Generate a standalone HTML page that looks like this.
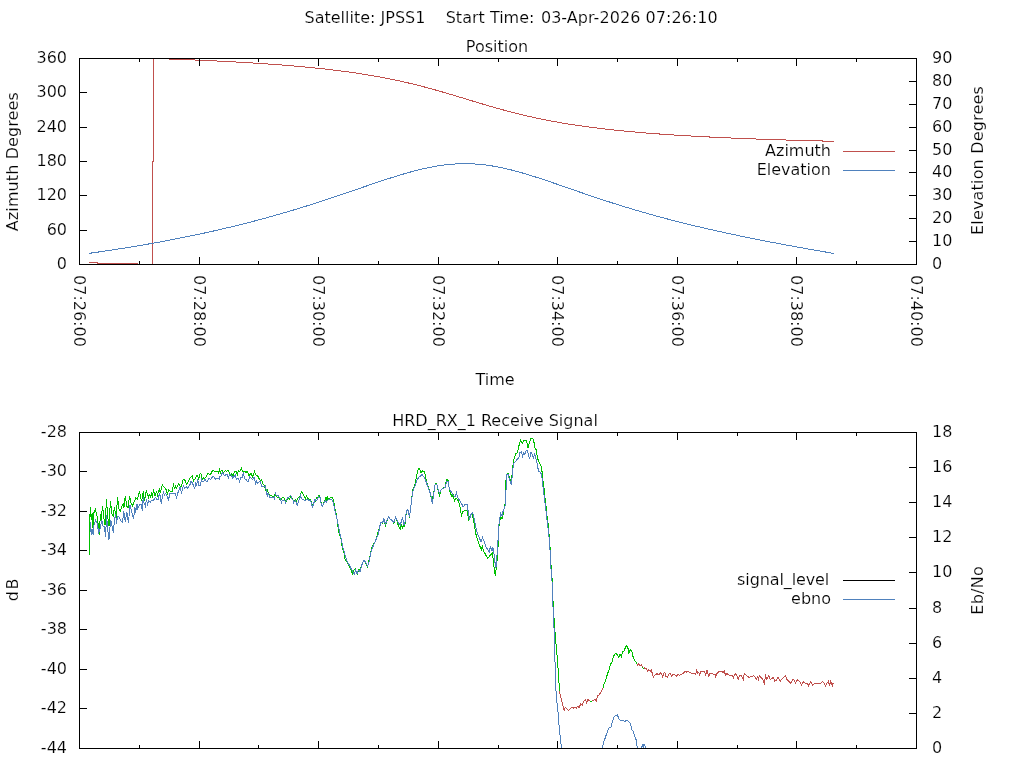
<!DOCTYPE html>
<html lang="en"><head><meta charset="utf-8"><title>Satellite: JPSS1</title>
<style>html,body{margin:0;padding:0;background:#fff;overflow:hidden}svg{display:block}text{font-family:"DejaVu Sans","Liberation Sans",sans-serif;font-size:16px;fill:#000;stroke:#fff;stroke-width:.18px}</style></head>
<body>
<svg width="1024" height="768" viewBox="0 0 1024 768">
<rect width="1024" height="768" fill="#fff"/>
<text x="304.5" y="23" xml:space="preserve" style="white-space:pre">Satellite: JPSS1    Start Time:</text>
<text x="717.7" y="23" text-anchor="end" textLength="176.8" lengthAdjust="spacing">03-Apr-2026 07:26:10</text>
<text x="497" y="52" text-anchor="middle">Position</text>
<polyline points="89,262.5 97,262.5 97,263.5 137,263.5 137,264.5 152.5,264.5 152.5,161 153.5,161 153.5,58.5" fill="none" stroke="#c0504d" stroke-width="1" shape-rendering="crispEdges" />
<polyline points="153.5,58.45 154.5,58.49 155.5,58.52 156.5,58.55 157.5,58.59 158.5,58.62 159.5,58.66 160.5,58.69 161.5,58.73 162.5,58.76 163.5,58.8 164.5,58.83 165.5,58.87 166.5,58.9 167.5,58.94 168.5,58.97 169.5,59.01 170.5,59.05 171.5,59.08 172.5,59.12 173.5,59.16 174.5,59.19 175.5,59.23 176.5,59.27 177.5,59.31 178.5,59.35 179.5,59.38 180.5,59.42 181.5,59.46 182.5,59.5 183.5,59.54 184.5,59.58 185.5,59.62 186.5,59.66 187.5,59.7 188.5,59.74 189.5,59.78 190.5,59.82 191.5,59.86 192.5,59.9 193.5,59.95 194.5,59.99 195.5,60.03 196.5,60.07 197.5,60.12 198.5,60.16 199.5,60.2 200.5,60.25 201.5,60.29 202.5,60.33 203.5,60.38 204.5,60.42 205.5,60.47 206.5,60.51 207.5,60.56 208.5,60.6 209.5,60.65 210.5,60.7 211.5,60.74 212.5,60.79 213.5,60.84 214.5,60.89 215.5,60.93 216.5,60.98 217.5,61.03 218.5,61.08 219.5,61.13 220.5,61.18 221.5,61.23 222.5,61.28 223.5,61.33 224.5,61.38 225.5,61.43 226.5,61.48 227.5,61.54 228.5,61.59 229.5,61.64 230.5,61.69 231.5,61.75 232.5,61.8 233.5,61.85 234.5,61.91 235.5,61.96 236.5,62.02 237.5,62.08 238.5,62.13 239.5,62.19 240.5,62.24 241.5,62.3 242.5,62.36 243.5,62.42 244.5,62.48 245.5,62.54 246.5,62.59 247.5,62.65 248.5,62.71 249.5,62.78 250.5,62.84 251.5,62.9 252.5,62.96 253.5,63.02 254.5,63.09 255.5,63.15 256.5,63.21 257.5,63.28 258.5,63.34 259.5,63.41 260.5,63.47 261.5,63.54 262.5,63.61 263.5,63.67 264.5,63.74 265.5,63.81 266.5,63.88 267.5,63.95 268.5,64.02 269.5,64.09 270.5,64.16 271.5,64.23 272.5,64.3 273.5,64.37 274.5,64.45 275.5,64.52 276.5,64.6 277.5,64.67 278.5,64.75 279.5,64.82 280.5,64.9 281.5,64.98 282.5,65.05 283.5,65.13 284.5,65.21 285.5,65.29 286.5,65.37 287.5,65.45 288.5,65.54 289.5,65.62 290.5,65.7 291.5,65.79 292.5,65.87 293.5,65.95 294.5,66.04 295.5,66.13 296.5,66.21 297.5,66.3 298.5,66.39 299.5,66.48 300.5,66.57 301.5,66.66 302.5,66.75 303.5,66.85 304.5,66.94 305.5,67.03 306.5,67.13 307.5,67.23 308.5,67.32 309.5,67.42 310.5,67.52 311.5,67.62 312.5,67.72 313.5,67.82 314.5,67.92 315.5,68.02 316.5,68.13 317.5,68.23 318.5,68.34 319.5,68.44 320.5,68.55 321.5,68.66 322.5,68.77 323.5,68.88 324.5,68.99 325.5,69.1 326.5,69.21 327.5,69.33 328.5,69.44 329.5,69.56 330.5,69.67 331.5,69.79 332.5,69.91 333.5,70.03 334.5,70.15 335.5,70.28 336.5,70.4 337.5,70.52 338.5,70.65 339.5,70.78 340.5,70.91 341.5,71.03 342.5,71.17 343.5,71.3 344.5,71.43 345.5,71.56 346.5,71.7 347.5,71.84 348.5,71.97 349.5,72.11 350.5,72.25 351.5,72.4 352.5,72.54 353.5,72.68 354.5,72.83 355.5,72.98 356.5,73.12 357.5,73.27 358.5,73.42 359.5,73.58 360.5,73.73 361.5,73.89 362.5,74.04 363.5,74.2 364.5,74.36 365.5,74.52 366.5,74.69 367.5,74.85 368.5,75.02 369.5,75.18 370.5,75.35 371.5,75.52 372.5,75.69 373.5,75.87 374.5,76.04 375.5,76.22 376.5,76.4 377.5,76.58 378.5,76.76 379.5,76.94 380.5,77.13 381.5,77.31 382.5,77.5 383.5,77.69 384.5,77.88 385.5,78.08 386.5,78.27 387.5,78.47 388.5,78.67 389.5,78.87 390.5,79.07 391.5,79.27 392.5,79.48 393.5,79.69 394.5,79.89 395.5,80.11 396.5,80.32 397.5,80.53 398.5,80.75 399.5,80.97 400.5,81.19 401.5,81.41 402.5,81.63 403.5,81.86 404.5,82.09 405.5,82.31 406.5,82.55 407.5,82.78 408.5,83.01 409.5,83.25 410.5,83.49 411.5,83.73 412.5,83.97 413.5,84.21 414.5,84.46 415.5,84.7 416.5,84.95 417.5,85.2 418.5,85.46 419.5,85.71 420.5,85.97 421.5,86.22 422.5,86.48 423.5,86.74 424.5,87.01 425.5,87.27 426.5,87.54 427.5,87.81 428.5,88.07 429.5,88.35 430.5,88.62 431.5,88.89 432.5,89.17 433.5,89.44 434.5,89.72 435.5,90 436.5,90.28 437.5,90.56 438.5,90.85 439.5,91.13 440.5,91.42 441.5,91.71 442.5,92 443.5,92.29 444.5,92.58 445.5,92.87 446.5,93.16 447.5,93.45 448.5,93.75 449.5,94.05 450.5,94.34 451.5,94.64 452.5,94.94 453.5,95.24 454.5,95.54 455.5,95.84 456.5,96.14 457.5,96.44 458.5,96.74 459.5,97.04 460.5,97.35 461.5,97.65 462.5,97.95 463.5,98.25 464.5,98.56 465.5,98.86 466.5,99.17 467.5,99.47 468.5,99.77 469.5,100.08 470.5,100.38 471.5,100.68 472.5,100.99 473.5,101.29 474.5,101.59 475.5,101.89 476.5,102.2 477.5,102.5 478.5,102.8 479.5,103.1 480.5,103.4 481.5,103.7 482.5,103.99 483.5,104.29 484.5,104.59 485.5,104.88 486.5,105.18 487.5,105.47 488.5,105.76 489.5,106.05 490.5,106.34 491.5,106.63 492.5,106.92 493.5,107.21 494.5,107.49 495.5,107.78 496.5,108.06 497.5,108.34 498.5,108.62 499.5,108.9 500.5,109.18 501.5,109.46 502.5,109.73 503.5,110 504.5,110.27 505.5,110.54 506.5,110.81 507.5,111.08 508.5,111.34 509.5,111.61 510.5,111.87 511.5,112.13 512.5,112.39 513.5,112.65 514.5,112.9 515.5,113.15 516.5,113.4 517.5,113.65 518.5,113.9 519.5,114.15 520.5,114.39 521.5,114.64 522.5,114.88 523.5,115.12 524.5,115.35 525.5,115.59 526.5,115.82 527.5,116.05 528.5,116.28 529.5,116.51 530.5,116.74 531.5,116.96 532.5,117.18 533.5,117.41 534.5,117.62 535.5,117.84 536.5,118.06 537.5,118.27 538.5,118.48 539.5,118.69 540.5,118.9 541.5,119.11 542.5,119.31 543.5,119.51 544.5,119.71 545.5,119.91 546.5,120.11 547.5,120.31 548.5,120.5 549.5,120.69 550.5,120.88 551.5,121.07 552.5,121.26 553.5,121.44 554.5,121.63 555.5,121.81 556.5,121.99 557.5,122.17 558.5,122.35 559.5,122.52 560.5,122.7 561.5,122.87 562.5,123.04 563.5,123.21 564.5,123.38 565.5,123.54 566.5,123.71 567.5,123.87 568.5,124.03 569.5,124.19 570.5,124.35 571.5,124.51 572.5,124.66 573.5,124.82 574.5,124.97 575.5,125.12 576.5,125.27 577.5,125.42 578.5,125.57 579.5,125.72 580.5,125.86 581.5,126 582.5,126.15 583.5,126.29 584.5,126.43 585.5,126.56 586.5,126.7 587.5,126.84 588.5,126.97 589.5,127.1 590.5,127.23 591.5,127.37 592.5,127.49 593.5,127.62 594.5,127.75 595.5,127.88 596.5,128 597.5,128.12 598.5,128.25 599.5,128.37 600.5,128.49 601.5,128.61 602.5,128.73 603.5,128.84 604.5,128.96 605.5,129.07 606.5,129.19 607.5,129.3 608.5,129.41 609.5,129.52 610.5,129.63 611.5,129.74 612.5,129.85 613.5,129.96 614.5,130.06 615.5,130.17 616.5,130.27 617.5,130.38 618.5,130.48 619.5,130.58 620.5,130.68 621.5,130.78 622.5,130.88 623.5,130.98 624.5,131.08 625.5,131.17 626.5,131.27 627.5,131.36 628.5,131.46 629.5,131.55 630.5,131.64 631.5,131.73 632.5,131.82 633.5,131.91 634.5,132 635.5,132.09 636.5,132.18 637.5,132.27 638.5,132.35 639.5,132.44 640.5,132.52 641.5,132.61 642.5,132.69 643.5,132.77 644.5,132.85 645.5,132.94 646.5,133.02 647.5,133.1 648.5,133.18 649.5,133.25 650.5,133.33 651.5,133.41 652.5,133.49 653.5,133.56 654.5,133.64 655.5,133.71 656.5,133.79 657.5,133.86 658.5,133.93 659.5,134.01 660.5,134.08 661.5,134.15 662.5,134.22 663.5,134.29 664.5,134.36 665.5,134.43 666.5,134.5 667.5,134.57 668.5,134.64 669.5,134.7 670.5,134.77 671.5,134.84 672.5,134.9 673.5,134.97 674.5,135.03 675.5,135.09 676.5,135.16 677.5,135.22 678.5,135.28 679.5,135.35 680.5,135.41 681.5,135.47 682.5,135.53 683.5,135.59 684.5,135.65 685.5,135.71 686.5,135.77 687.5,135.83 688.5,135.89 689.5,135.94 690.5,136 691.5,136.06 692.5,136.11 693.5,136.17 694.5,136.23 695.5,136.28 696.5,136.34 697.5,136.39 698.5,136.44 699.5,136.5 700.5,136.55 701.5,136.6 702.5,136.66 703.5,136.71 704.5,136.76 705.5,136.81 706.5,136.86 707.5,136.91 708.5,136.96 709.5,137.01 710.5,137.06 711.5,137.11 712.5,137.16 713.5,137.21 714.5,137.26 715.5,137.31 716.5,137.35 717.5,137.4 718.5,137.45 719.5,137.49 720.5,137.54 721.5,137.59 722.5,137.63 723.5,137.68 724.5,137.72 725.5,137.77 726.5,137.81 727.5,137.86 728.5,137.9 729.5,137.94 730.5,137.99 731.5,138.03 732.5,138.07 733.5,138.11 734.5,138.16 735.5,138.2 736.5,138.24 737.5,138.28 738.5,138.32 739.5,138.36 740.5,138.4 741.5,138.44 742.5,138.48 743.5,138.52 744.5,138.56 745.5,138.6 746.5,138.64 747.5,138.68 748.5,138.72 749.5,138.76 750.5,138.8 751.5,138.83 752.5,138.87 753.5,138.91 754.5,138.95 755.5,138.98 756.5,139.02 757.5,139.06 758.5,139.09 759.5,139.13 760.5,139.16 761.5,139.2 762.5,139.23 763.5,139.27 764.5,139.3 765.5,139.34 766.5,139.37 767.5,139.41 768.5,139.44 769.5,139.47 770.5,139.51 771.5,139.54 772.5,139.58 773.5,139.61 774.5,139.64 775.5,139.67 776.5,139.71 777.5,139.74 778.5,139.77 779.5,139.8 780.5,139.83 781.5,139.87 782.5,139.9 783.5,139.93 784.5,139.96 785.5,139.99 786.5,140.02 787.5,140.05 788.5,140.08 789.5,140.11 790.5,140.14 791.5,140.17 792.5,140.2 793.5,140.23 794.5,140.26 795.5,140.29 796.5,140.32 797.5,140.34 798.5,140.37 799.5,140.4 800.5,140.43 801.5,140.46 802.5,140.49 803.5,140.51 804.5,140.54 805.5,140.57 806.5,140.6 807.5,140.62 808.5,140.65 809.5,140.68 810.5,140.7 811.5,140.73 812.5,140.76 813.5,140.78 814.5,140.81 815.5,140.83 816.5,140.86 817.5,140.89 818.5,140.91 819.5,140.94 820.5,140.96 821.5,140.99 822.5,141.01 823.5,141.04 824.5,141.06 825.5,141.09 826.5,141.11 827.5,141.13 828.5,141.16 829.5,141.18 830.5,141.21 831.5,141.23 832.5,141.25 833.5,141.28 834.2,141.29" fill="none" stroke="#c0504d" stroke-width="1" shape-rendering="crispEdges" />
<polyline points="89,253.36 90,253.22 91,253.08 92,252.94 93,252.8 94,252.66 95,252.51 96,252.37 97,252.23 98,252.08 99,251.94 100,251.79 101,251.65 102,251.5 103,251.35 104,251.2 105,251.06 106,250.91 107,250.76 108,250.61 109,250.46 110,250.31 111,250.15 112,250 113,249.85 114,249.69 115,249.54 116,249.39 117,249.23 118,249.07 119,248.92 120,248.76 121,248.6 122,248.44 123,248.28 124,248.12 125,247.96 126,247.8 127,247.64 128,247.48 129,247.31 130,247.15 131,246.99 132,246.82 133,246.66 134,246.49 135,246.32 136,246.15 137,245.99 138,245.82 139,245.65 140,245.48 141,245.31 142,245.14 143,244.96 144,244.79 145,244.62 146,244.44 147,244.27 148,244.09 149,243.92 150,243.74 151,243.56 152,243.38 153,243.2 154,243.02 155,242.84 156,242.66 157,242.48 158,242.3 159,242.12 160,241.93 161,241.75 162,241.56 163,241.38 164,241.19 165,241 166,240.81 167,240.62 168,240.43 169,240.24 170,240.05 171,239.86 172,239.67 173,239.48 174,239.28 175,239.09 176,238.89 177,238.7 178,238.5 179,238.3 180,238.1 181,237.9 182,237.7 183,237.5 184,237.3 185,237.1 186,236.9 187,236.69 188,236.49 189,236.28 190,236.08 191,235.87 192,235.66 193,235.45 194,235.24 195,235.03 196,234.82 197,234.61 198,234.4 199,234.18 200,233.97 201,233.76 202,233.54 203,233.32 204,233.11 205,232.89 206,232.67 207,232.45 208,232.23 209,232.01 210,231.78 211,231.56 212,231.34 213,231.11 214,230.89 215,230.66 216,230.43 217,230.2 218,229.97 219,229.74 220,229.51 221,229.28 222,229.05 223,228.81 224,228.58 225,228.34 226,228.11 227,227.87 228,227.63 229,227.39 230,227.15 231,226.91 232,226.67 233,226.43 234,226.19 235,225.94 236,225.7 237,225.45 238,225.2 239,224.96 240,224.71 241,224.46 242,224.21 243,223.95 244,223.7 245,223.45 246,223.19 247,222.94 248,222.68 249,222.43 250,222.17 251,221.91 252,221.65 253,221.39 254,221.12 255,220.86 256,220.6 257,220.33 258,220.07 259,219.8 260,219.53 261,219.26 262,218.99 263,218.72 264,218.45 265,218.18 266,217.91 267,217.63 268,217.35 269,217.08 270,216.8 271,216.52 272,216.24 273,215.96 274,215.68 275,215.4 276,215.12 277,214.83 278,214.55 279,214.26 280,213.97 281,213.68 282,213.39 283,213.1 284,212.81 285,212.52 286,212.23 287,211.93 288,211.64 289,211.34 290,211.05 291,210.75 292,210.45 293,210.15 294,209.85 295,209.55 296,209.24 297,208.94 298,208.63 299,208.33 300,208.02 301,207.71 302,207.41 303,207.1 304,206.79 305,206.47 306,206.16 307,205.85 308,205.54 309,205.22 310,204.9 311,204.59 312,204.27 313,203.95 314,203.63 315,203.31 316,202.99 317,202.67 318,202.35 319,202.02 320,201.7 321,201.37 322,201.05 323,200.72 324,200.39 325,200.07 326,199.74 327,199.41 328,199.08 329,198.75 330,198.41 331,198.08 332,197.75 333,197.41 334,197.08 335,196.74 336,196.41 337,196.07 338,195.74 339,195.4 340,195.06 341,194.72 342,194.38 343,194.04 344,193.71 345,193.37 346,193.02 347,192.68 348,192.34 349,192 350,191.66 351,191.32 352,190.97 353,190.63 354,190.29 355,189.95 356,189.6 357,189.26 358,188.92 359,188.58 360,188.23 361,187.89 362,187.55 363,187.2 364,186.86 365,186.52 366,186.18 367,185.83 368,185.49 369,185.15 370,184.81 371,184.47 372,184.13 373,183.79 374,183.45 375,183.11 376,182.78 377,182.44 378,182.1 379,181.77 380,181.44 381,181.1 382,180.77 383,180.44 384,180.11 385,179.78 386,179.45 387,179.13 388,178.8 389,178.48 390,178.16 391,177.84 392,177.52 393,177.2 394,176.89 395,176.57 396,176.26 397,175.95 398,175.64 399,175.34 400,175.03 401,174.73 402,174.44 403,174.14 404,173.85 405,173.55 406,173.27 407,172.98 408,172.7 409,172.42 410,172.14 411,171.86 412,171.59 413,171.33 414,171.06 415,170.8 416,170.54 417,170.29 418,170.04 419,169.79 420,169.55 421,169.31 422,169.07 423,168.84 424,168.61 425,168.39 426,168.17 427,167.95 428,167.74 429,167.54 430,167.34 431,167.14 432,166.95 433,166.76 434,166.58 435,166.4 436,166.23 437,166.06 438,165.9 439,165.74 440,165.59 441,165.45 442,165.31 443,165.17 444,165.04 445,164.92 446,164.8 447,164.69 448,164.58 449,164.48 450,164.38 451,164.29 452,164.21 453,164.13 454,164.06 455,164 456,163.94 457,163.89 458,163.84 459,163.8 460,163.76 461,163.74 462,163.71 463,163.7 464,163.69 465,163.69 466,163.69 467,163.7 468,163.72 469,163.74 470,163.77 471,163.8 472,163.84 473,163.89 474,163.94 475,164 476,164.07 477,164.14 478,164.22 479,164.3 480,164.39 481,164.49 482,164.59 483,164.7 484,164.81 485,164.93 486,165.06 487,165.19 488,165.33 489,165.47 490,165.62 491,165.77 492,165.93 493,166.09 494,166.26 495,166.44 496,166.62 497,166.8 498,166.99 499,167.19 500,167.39 501,167.6 502,167.8 503,168.02 504,168.24 505,168.46 506,168.69 507,168.92 508,169.16 509,169.4 510,169.64 511,169.89 512,170.14 513,170.4 514,170.66 515,170.92 516,171.19 517,171.46 518,171.73 519,172.01 520,172.29 521,172.58 522,172.86 523,173.15 524,173.44 525,173.74 526,174.04 527,174.34 528,174.64 529,174.95 530,175.25 531,175.56 532,175.88 533,176.19 534,176.51 535,176.83 536,177.15 537,177.47 538,177.79 539,178.12 540,178.44 541,178.77 542,179.1 543,179.44 544,179.77 545,180.1 546,180.44 547,180.77 548,181.11 549,181.45 550,181.79 551,182.13 552,182.47 553,182.81 554,183.16 555,183.5 556,183.84 557,184.19 558,184.53 559,184.88 560,185.22 561,185.57 562,185.92 563,186.26 564,186.61 565,186.96 566,187.3 567,187.65 568,188 569,188.34 570,188.69 571,189.04 572,189.39 573,189.73 574,190.08 575,190.43 576,190.77 577,191.12 578,191.46 579,191.81 580,192.15 581,192.5 582,192.84 583,193.18 584,193.52 585,193.87 586,194.21 587,194.55 588,194.89 589,195.23 590,195.57 591,195.91 592,196.24 593,196.58 594,196.92 595,197.25 596,197.59 597,197.92 598,198.25 599,198.59 600,198.92 601,199.25 602,199.58 603,199.91 604,200.24 605,200.56 606,200.89 607,201.21 608,201.54 609,201.86 610,202.18 611,202.51 612,202.83 613,203.15 614,203.46 615,203.78 616,204.1 617,204.41 618,204.73 619,205.04 620,205.36 621,205.67 622,205.98 623,206.29 624,206.6 625,206.9 626,207.21 627,207.52 628,207.82 629,208.12 630,208.43 631,208.73 632,209.03 633,209.33 634,209.62 635,209.92 636,210.22 637,210.51 638,210.81 639,211.1 640,211.39 641,211.68 642,211.97 643,212.26 644,212.55 645,212.83 646,213.12 647,213.41 648,213.69 649,213.97 650,214.25 651,214.53 652,214.81 653,215.09 654,215.37 655,215.65 656,215.92 657,216.2 658,216.47 659,216.74 660,217.01 661,217.28 662,217.55 663,217.82 664,218.09 665,218.35 666,218.62 667,218.88 668,219.15 669,219.41 670,219.67 671,219.93 672,220.19 673,220.45 674,220.71 675,220.97 676,221.22 677,221.48 678,221.73 679,221.99 680,222.24 681,222.49 682,222.74 683,222.99 684,223.24 685,223.49 686,223.74 687,223.98 688,224.23 689,224.47 690,224.72 691,224.96 692,225.2 693,225.44 694,225.68 695,225.92 696,226.16 697,226.4 698,226.64 699,226.87 700,227.11 701,227.34 702,227.58 703,227.81 704,228.04 705,228.27 706,228.5 707,228.74 708,228.96 709,229.19 710,229.42 711,229.65 712,229.87 713,230.1 714,230.33 715,230.55 716,230.77 717,231 718,231.22 719,231.44 720,231.66 721,231.88 722,232.1 723,232.32 724,232.54 725,232.75 726,232.97 727,233.19 728,233.4 729,233.62 730,233.83 731,234.05 732,234.26 733,234.47 734,234.68 735,234.89 736,235.1 737,235.31 738,235.52 739,235.73 740,235.94 741,236.15 742,236.35 743,236.56 744,236.77 745,236.97 746,237.18 747,237.38 748,237.58 749,237.79 750,237.99 751,238.19 752,238.39 753,238.59 754,238.79 755,238.99 756,239.19 757,239.39 758,239.59 759,239.79 760,239.99 761,240.18 762,240.38 763,240.57 764,240.77 765,240.96 766,241.16 767,241.35 768,241.55 769,241.74 770,241.93 771,242.12 772,242.32 773,242.51 774,242.7 775,242.89 776,243.08 777,243.27 778,243.46 779,243.65 780,243.83 781,244.02 782,244.21 783,244.4 784,244.58 785,244.77 786,244.95 787,245.14 788,245.32 789,245.51 790,245.69 791,245.88 792,246.06 793,246.24 794,246.43 795,246.61 796,246.79 797,246.97 798,247.15 799,247.34 800,247.52 801,247.7 802,247.88 803,248.06 804,248.24 805,248.41 806,248.59 807,248.77 808,248.95 809,249.13 810,249.3 811,249.48 812,249.66 813,249.83 814,250.01 815,250.19 816,250.36 817,250.54 818,250.71 819,250.89 820,251.06 821,251.24 822,251.41 823,251.58 824,251.76 825,251.93 826,252.1 827,252.27 828,252.45 829,252.62 830,252.79 831,252.96 832,253.13 833,253.3 834.2,253.51" fill="none" stroke="#4f81bd" stroke-width="1" shape-rendering="crispEdges" />
<path d="M79.5 265V257M79.5 58V66M139.5 265V261M139.5 58V62M199.5 265V257M199.5 58V66M258.5 265V261M258.5 58V62M318.5 265V257M318.5 58V66M378.5 265V261M378.5 58V62M438.5 265V257M438.5 58V66M498.5 265V261M498.5 58V62M557.5 265V257M557.5 58V66M617.5 265V261M617.5 58V62M677.5 265V257M677.5 58V66M737.5 265V261M737.5 58V62M796.5 265V257M796.5 58V66M856.5 265V261M856.5 58V62M916.5 265V257M916.5 58V66M79 264.5H87M79 230.5H87M79 195.5H87M79 161.5H87M79 127.5H87M79 92.5H87M79 58.5H87M917 264.5H909M917 241.5H909M917 218.5H909M917 195.5H909M917 172.5H909M917 150.5H909M917 127.5H909M917 104.5H909M917 81.5H909M917 58.5H909" stroke="#000" stroke-width="1" fill="none" shape-rendering="crispEdges"/>
<rect x="79.5" y="58.5" width="837" height="206" fill="none" stroke="#000" stroke-width="1" shape-rendering="crispEdges"/>
<text x="67" y="269" text-anchor="end">0</text>
<text x="67" y="235" text-anchor="end">60</text>
<text x="67" y="200" text-anchor="end">120</text>
<text x="67" y="166" text-anchor="end">180</text>
<text x="67" y="132" text-anchor="end">240</text>
<text x="67" y="97" text-anchor="end">300</text>
<text x="67" y="63" text-anchor="end">360</text>
<text x="932" y="269">0</text>
<text x="932" y="246">10</text>
<text x="932" y="223">20</text>
<text x="932" y="200">30</text>
<text x="932" y="177">40</text>
<text x="932" y="155">50</text>
<text x="932" y="132">60</text>
<text x="932" y="109">70</text>
<text x="932" y="86">80</text>
<text x="932" y="63">90</text>
<text transform="translate(74 275) rotate(90)">07:26:00</text>
<text transform="translate(194 275) rotate(90)">07:28:00</text>
<text transform="translate(313 275) rotate(90)">07:30:00</text>
<text transform="translate(433 275) rotate(90)">07:32:00</text>
<text transform="translate(552 275) rotate(90)">07:34:00</text>
<text transform="translate(672 275) rotate(90)">07:36:00</text>
<text transform="translate(791 275) rotate(90)">07:38:00</text>
<text transform="translate(911 275) rotate(90)">07:40:00</text>
<text transform="translate(17.5 231.2) rotate(-90)" textLength="139" lengthAdjust="spacing">Azimuth Degrees</text>
<text transform="translate(983 235) rotate(-90)" textLength="148.85" lengthAdjust="spacing">Elevation Degrees</text>
<text x="495" y="385" text-anchor="middle">Time</text>
<text x="831" y="156" text-anchor="end">Azimuth</text>
<text x="831" y="175" text-anchor="end">Elevation</text>
<path d="M843 151.5H895" stroke="#c0504d" shape-rendering="crispEdges"/>
<path d="M843 170.5H895" stroke="#4f81bd" shape-rendering="crispEdges"/>
<text x="495" y="426" text-anchor="middle">HRD_RX_1 Receive Signal</text>
<clipPath id="cb"><rect x="79" y="432" width="838" height="317"/></clipPath>
<g clip-path="url(#cb)">
<polyline points="559.5,690.62 560.38,696.25 561.62,700 562.88,705.62 564.12,710.62 565.38,707.5 567,708.75 568.75,710.62 570,708.75 571.62,707.25 573.25,708.12 574.75,707.5 576.25,708.12 577.88,706.25 579.12,707.5 580.75,703.75 582.25,705 584.12,700.62 585.38,699.38 586.62,702.5 587.88,699.38 589.5,701" fill="none" stroke="#c0504d" stroke-width="1" shape-rendering="crispEdges" />
<polyline points="592.25,701.25 592.88,700.62 594.75,699.38 596.62,701.25 597.25,696.25 599.12,695 601,691.88 602.88,688.12 603,687.75" fill="none" stroke="#c0504d" stroke-width="1" shape-rendering="crispEdges" />
<polyline points="637.25,664.62 637.62,665.25 638.88,663.75 640.12,665.88 641.38,665 642.62,667.12" fill="none" stroke="#c0504d" stroke-width="1" shape-rendering="crispEdges" />
<polyline points="643.88,669.25 644.5,667.75 646,668.38 647.62,670.88 648.88,669.62 650.12,671.5 651.38,670.25 652.62,674.62 653.5,677.12 655.12,674.62 657,673.75 658.88,674.62 660.5,672.75 662,675.25 662.62,677.12 663.88,673.38 664.75,672.12 666,676.5 667.62,677.12 668.88,674 670.12,673.38 671.75,676.5 673.25,674 674.75,674.62 676.38,676.5 678,674 679.5,675.25 681.38,674.62 683.25,673.38 685.12,671.5 686.75,672.12 688,671.5 689.5,672.12 691.38,673.38 693.25,673.38 695.12,673.38 695.75,675.25 696.38,669.62 697.62,673.38 698.88,672.12 699.75,675.25 700.75,671.5 702.62,671.25 704.5,671.5 705.75,675.25 707,669.62 708,674 708.5,677.12 709.5,674 711.38,673.38 713.25,674 715.12,674.62 715.75,677.12 717,673.38 718.25,672.12 720,671.5 721.75,671.25 723,673.12 724.25,671.25 725.5,675 727,673.5 728.88,675 730.75,675.62 732.62,675.62 733.5,677.5 735.12,673.5 736.75,675.62 738.25,679.38 739.5,675.62 741.38,675.62 743.25,679.38 744.25,673.75 745.75,675 747.62,676.25 748.88,677.5 750.75,676.88 752,676.88 753.88,675.62 755.12,676.88 756.38,679.38 757.62,676.88 758.5,679.38 759.25,675.62 761,677.5 762.62,679.38 764.25,683.12 765.5,675.62 767,679.38 768.88,675.62 770.12,679.38 771.75,678.75 773.25,677.5 774.75,681.25 776.38,680 778,677.5 780.12,681.25 782,678.75 783.88,676.88 785.5,675.62 787,679.38 788.88,681.25 790.5,683.12 792.62,680 793.88,679.38 795.5,683.12 797.62,679.38 799.5,681.25 801.38,685 803.25,681.88 805.12,683.12 807.25,683.5 808.5,685.62 810.75,681.25 812.62,685.62 814.5,683.5 817,683.5 820.75,683.5 822.62,681.25 824.5,683.75 825.5,685.62 827,683.12 828.5,681.25 829.5,685.62 830.75,681.25 832.25,685.62 832.62,683.75 833.88,683.5" fill="none" stroke="#c0504d" stroke-width="1" shape-rendering="crispEdges" />
<polyline points="89.38,554.75 89.38,531.25 90.25,507.5 91.25,520 92.12,513.12 92.88,527.5 94,512.5 95.25,509.38 96.88,515 98.75,528.75 99.38,535 100.38,513.75 101.25,520 102.5,505.62 103.75,517.5 105,525 106.5,499.38 107.75,517.5 109,526.25 110.38,501 111.88,513.75 113.12,516.25 114.38,507.5 116.25,517.5 117.5,497.5 119,508.75 120.25,511.25 121.88,506.25 123.12,503.75 124,507.5 125.25,495.62 126.88,506.25 128.12,507.5 129.62,495.62 131.25,503.75 132.5,505.62 134.38,501.25 135.62,498.12 137.5,499.38 139.38,491.88 140,493.75 140.62,497.5 141.56,501.25 142.5,496.25 143.44,491.25 144.38,501.25 145.31,496.25 146.25,491.25 147.38,494.38 148.44,497.5 149.38,493.75 150.31,497.5 151.56,493.75 152.5,497.5 153.44,488.75 154.69,495 155.62,495 156.38,491.25 157.5,495 158.44,491.25 159.5,489.38 160.31,493.12 161.25,488.75 162.38,485 163.75,486.56 165,488.12 166.25,490 167.5,495 168.44,489.38 169.69,490.62 170.94,491.56 172.5,491.25 173.44,483.12 174.38,489.38 175.31,485.62 176.25,488.75 177.5,486.25 178.44,483.44 179.69,485 180.62,487.5 181.56,485.62 182.81,480 184.06,479.38 185.31,480.62 186.56,484.38 187.81,482.5 189.38,478.75 190.62,477.19 192.19,475.94 193.44,481.25 194.38,479.38 195.62,478.12 196.56,475.94 197.81,475.94 198.75,479.38 200.31,473.12 201.56,475 202.19,479.38 203.12,477.5 204,478.5 205.25,477.88 206.5,476.62 207.44,473.19 208.69,473.5 209.94,475.06 211.19,473.19 212.12,471.31 213.38,470.25 214.62,471.31 215.88,471.31 217.44,471.31 218.69,473.19 219.31,468.19 220.25,473.19 221.19,470.38 222.44,471 223.38,472.88 224.62,471.31 225.56,470.25 226.5,471.31 227.44,470.25 228.69,471.31 229.62,473.19 230.56,475.38 231.81,473.81 232.75,476.31 234,472.88 234.94,471.31 236.19,471.31 237.44,474.75 238.38,470.38 239.62,471.31 240.56,470.38 241.5,468.19 242.44,471 243.69,471.31 244.94,471.31 246.19,472.88 247.12,471.31 248.06,473.19 249,475.38 250.25,474.12 251.5,473.5 252.44,477.25 253.69,474.75 254.5,470.38 255.25,474.12 256.5,475.38 257.75,476 258.69,477.88 259.62,479.44 260.56,480.38 261.5,479.44 262.44,481.62 263.06,484.44 264.31,485.38 264.94,487.25 265.56,490.06 266.5,491 267.12,489.75 268,492 268.94,494.19 270.19,495.44 271.44,495.75 272.69,496.69 274.25,496.06 275.38,493.25 276.12,496.69 277.38,497.31 278.94,497.31 279.56,499.5 280.81,500.44 281.75,498.25 283,497.31 284.25,498.25 285.19,500.44 286.44,501.38 287.38,498.88 288.62,498.25 289.56,499.5 290.5,495.75 291.75,497.31 293,500.12 293.94,501.38 295.19,499.5 296.44,501.06 297.38,498.88 298.62,497.31 299.88,497 300.5,494.19 301.44,491.38 302.38,492.62 303.31,494.81 304.56,497.31 305.5,499.5 306.44,495.75 307.38,497.62 308.62,499.5 310.5,499.5 311.44,502 311.75,505.44 312.69,504.5 313.94,503.25 315.19,501.38 316.44,497.62 317.69,497.31 318.94,495.44 319.88,497 320.81,501.38 321.75,505.75 323,505.12 324.25,501.38 325.19,499.5 326.12,497.31 326.75,500.44 327.69,497.31 328.88,499.62 330.75,497.12 332.62,497.5 333.88,502.75 335.12,509.62 336.75,516.75 337.62,525.25 338.88,532.12 340.75,537.75 342.25,547.12 343.88,552.5 344.75,558.38 347,562.12 348.88,565.88 350.75,569 352.25,574 353.88,570.25 355.12,568.75 357.25,574.62 358.88,569.62 360.12,570.25 361.38,565.88 362.62,562.5 364.25,560.5 365.75,563 367.62,566.75 369.25,559 370.5,554 371.75,547.75 373.5,544 375.12,541.75 376.75,537.12 378.25,531.5 379.75,525.88 381,522.75 382.62,523.38 383.88,519.25 385.5,525.5 387,520.5 388.5,516.75 390.12,519.25 392,520.5 393.88,523.38 395.5,517.75 397,520.5 398.5,526.5 400.12,529.25 401.38,525.25 402.62,527.75 403.88,524 404.75,527.12 406.38,510.88 408,510 409.5,517.75 410.75,507.12 411.75,497.62 413,489.5 414.75,485.5 416.38,477 417.62,470.75 419.25,468.25 421,472.62 422.62,470.75 424.5,472 426.38,480.75 428.25,487 430.12,493.25 432,500.75 433.88,492 435.12,483.88 436.75,483.88 438.25,490.75 439.5,495.12 441.38,489.25 443.25,488 445.12,487 446.38,479.75 448,480.12 449.25,488.88 450.5,493.25 452,497 453.25,495.12 454.5,501.38 456,498.25 457.62,499.5 459.5,504.5 460.75,510.75 461.5,517 462.62,511.38 465.75,510.75 467.38,509.5 468.5,520.75 470.12,515.75 472,513.88 473.5,519.5 474.75,527 476,534.5 477.62,539.5 479.25,544.5 481,548.88 481,550.62 482.25,546.25 483.75,551.25 485.75,555 487.88,558.5 489.75,555.62 492.25,553.12 493.25,560 494.12,568.12 495.38,576.25 496.25,567.5 497.25,558.75 498.25,543.75 498.75,528.12 499.75,520.25 501,517.5 502,518.75 503.25,513.75 504.75,505 505.75,500 506,480.5 506.88,474.25 508.12,473.62 509.75,478 511.25,481.75 512.25,473 513.12,464.25 514.38,457.38 516,453.62 517.5,452.38 519,445.5 520.62,440.5 522.25,443.62 523.5,440.5 525,441.12 526.5,440.5 528.12,448 529.38,443 530.62,438.62 532.5,438.25 533.75,440.5 534.75,448 536.25,449.88 537.25,456.75 538.5,461.12 539.75,463 541.25,466.75 542.25,473 543.12,481.75 544,488 545,498 546,505.5 546.88,515.5 548.12,524 549.38,537.5 550.25,550 551.25,568.75 552.25,581.25 552.75,596 554.6,628 557.5,660 558.5,675 559.5,690.62" fill="none" stroke="#00c000" stroke-width="1" shape-rendering="crispEdges" />
<polyline points="589.5,701 592.25,701.25" fill="none" stroke="#00c000" stroke-width="1" shape-rendering="crispEdges" />
<polyline points="603,687.75 603.88,684 605.12,681.5 606.38,677.75 607.62,673.38 608.88,670.88 610.5,664 612,662.12 613.25,657.12 614.5,654.62 616,653.38 617.62,655.25 618.88,657.5 620.12,654 621.38,656.5 622.62,651.5 624.25,650.88 625.5,647.12 626.75,645.5 628,648.38 628.88,653 630.12,649.62 631.75,650.88 632.62,655.25 633.88,659 635.12,660.88 636.38,662.75 637.25,664.62" fill="none" stroke="#00c000" stroke-width="1" shape-rendering="crispEdges" />
<polyline points="642.62,667.12 643.88,669.25" fill="none" stroke="#00c000" stroke-width="1" shape-rendering="crispEdges" />
<polyline points="90.25,522.5 91.25,535 92.12,528.75 93.12,535 94,525 95.62,520 96.88,522.5 98.75,532.5 100,528.75 101.88,520 103.12,526.25 104.38,526.25 105.62,536.88 106.5,515 107.75,530 109,539.75 110.62,520 111.88,525 113.38,532.5 114.38,520 115.62,513.75 116.5,523.75 117.5,516.25 119,516.88 120.62,520.62 122.5,522.5 123.75,511.25 125.25,521.88 126.88,512.5 128.5,522.5 130,505 131.5,511.25 133.5,518.5 135,507.5 135.62,513.12 136.88,503.75 137.75,508.75 139.38,505 140,504.38 141.25,504.38 142.5,511.25 143.12,497.5 143.75,502.5 144.69,503.75 145.5,507.5 146.25,499.38 147.5,504.38 148.75,500.62 150.31,502.5 151.25,500.62 153.44,500.62 154.69,498.12 155.62,497.5 156.56,499.06 158.12,499.06 159.38,493.75 160.31,496.25 161.25,504.38 162.5,495 163.44,492.5 164.38,495 165.31,493.12 166.56,494.38 167.81,498.12 168.44,500.62 169.69,493.75 171.25,493.44 175.31,493.44 176.56,497.5 177.5,493.75 178.75,490.62 180,486.88 180.94,490.62 181.56,493.75 182.5,488.75 183.44,485.62 184.69,488.12 186.25,486.88 187.5,488.44 188.44,486.56 189.69,485.62 190.94,481.25 192.19,482.5 193.44,485.62 194.69,488.44 195.62,483.44 196.56,485 197.81,479.38 198.75,485.31 200.31,485.31 201.56,479.38 202.5,481.88 204,481 204.94,479.44 205.88,481 207.12,481.31 208.38,479.44 209.31,478.19 210.56,479.44 211.81,477.56 213.06,476.31 214.31,477.56 215.56,479.44 216.81,478.19 218.06,478.5 219.31,479.44 219.94,476.31 221.19,476 222.12,472.25 223.38,474.12 224.94,476 226.19,474.44 227.44,474.44 228.38,478.5 229.31,474.75 230.56,474.44 231.5,475.38 232.75,478.19 234,476.62 235.25,475.06 236.5,479.44 237.75,478.19 238.69,479.44 239.62,481.62 240.56,477.56 242.12,477.56 243.38,472.25 244,476 244.94,479.12 246.19,479.44 247.12,481.31 248.69,481.31 249.31,476.94 250.56,477.88 251.5,478.19 252.44,479.44 254,477.56 254.62,479.44 255.56,483.5 256.5,481.31 257.75,483.19 259.31,481.62 260.56,481.62 261.5,486.31 263.06,486.62 264.31,486.31 265.56,485.38 266.19,491 266.81,494.12 267.44,497.25 268,493.56 269.25,495.44 269.56,497.31 271.12,497.31 272.69,497.31 273.94,497.62 274.56,499.5 275.38,492.31 276.12,495.44 277.38,495.44 278.62,496.06 279.56,497.62 280.5,499.5 281.44,502.62 282.06,500.44 283.31,500.44 284.56,500.12 285.5,502.62 286.44,500.12 287.38,497.62 288.62,497.31 289.56,496.38 290.5,495.44 291.44,497 292.06,499.5 293.31,500.44 293.62,502.62 294.56,501.38 295.5,500.44 296.44,502.62 297.38,506.38 298,503.25 298.62,501.38 299.56,498.25 300.5,495.75 301.44,498.88 303,499.19 304.25,500.12 305.5,500.44 306.44,499.5 307.69,499.5 308.94,500.44 310.5,500.75 311.44,502.62 312.38,507.31 313.31,505.75 314.25,501.38 314.88,499.5 315.81,500.44 316.75,500.75 317.69,498.25 318.62,496.69 320.19,497.62 320.81,501.38 321.44,505.12 322.38,506.38 323.31,504.5 324.25,502.62 325.19,500.75 326.44,502 327.38,500.44 328.25,500 330.12,499 332,499.62 333.5,502.75 334.75,509.62 336.38,516.5 338,524 339.5,531.5 341,537.75 342.62,546.5 344.25,552.12 345.75,557.75 347.62,562.12 349.5,565.25 351,568.38 352.62,570.88 354.25,574.25 355.5,570.25 357,573.75 358.5,570.25 360.12,571.5 361.38,566.5 362.62,562.75 364.25,560.25 365.75,562.75 367.62,566.5 369.25,561.5 370.5,554 372,549 373.5,545.25 375.12,541.5 376.75,537.75 378.25,534.62 379.75,526.5 381,522.12 382.62,522.75 383.88,519 385.5,524 387,520.25 388.5,516.75 390.12,519 392,520.25 393.88,522.75 395.5,517.5 397,520.25 398.5,522.75 400.12,525.25 401.38,521.5 402.62,517.12 403.88,525.25 405.12,521.5 406.38,510.88 408,509.62 409.5,517.12 410.75,507.75 412,497 413.25,489.5 415.12,485.75 416.75,480.75 418.5,477.62 420.12,476.38 422,474.5 423.5,476.38 425.12,478.88 427,484.5 428.88,489.5 430.75,494.5 432.25,503.88 433.88,493.25 435.12,484.5 436.75,484.25 438.25,489.5 439.5,493.25 441.38,489.5 443.25,488.25 445.12,487.62 446.38,482 448,481 449.25,488.25 450.5,490.75 452,493.25 453.5,495.75 455.12,497 456.38,492.62 458,498.25 459.5,500.12 461.38,503.25 463.25,507 465.12,504.5 467,504.25 468.25,512 469.5,519.5 471,514.5 472.62,512.62 473.88,517 475.12,523.88 476.38,529.5 477.62,534.5 479.5,538.25 481,542 482.62,537.62 484.25,542 485.75,546.38 487.88,550 489.12,552.5 490.38,546.88 492,551.25 492.88,546.88 494.12,555 495,562.5 496,567.5 497,555 497.88,543.75 498.5,528.12 499.5,520 500.75,513.75 502,515.62 503.25,510.62 504.75,507.5 505.75,500 506.25,481.75 506.88,474.88 508.12,474.25 509.38,479.25 511.25,484.88 512.25,475.5 513.12,466.75 514,463 515.62,461.75 517.25,459.25 518.75,458 520,452.38 521.5,451.75 522.5,456.75 523.75,453 524.75,454.88 526,451.12 527.5,450.5 528.5,455.5 529.75,458.62 531,451.75 532.25,454.88 533.5,457.38 534.75,453.62 536,459.25 537.25,464.25 538.5,471.12 540,471.75 541.5,474.25 542.5,481.75 543.12,488 544.38,498 545.25,505.5 546.25,513 547.5,524 549.12,537.5 550,550 551,568.75 552,581.25 552.5,596 554,628 555.2,668 555.38,682.5 556.62,700 558.25,713.75 559.12,726.25 560.38,738.12 561.62,749 602.25,749 603.5,742.5 605.38,737.5 607.25,731.88 609.12,728.12 611,726.88 612.5,721.25 614.12,716.25 616,715.62 617.5,715 619.12,719.38 621,720.62 623.5,720.25 624.75,721.88 626.25,720 628.5,721.5 630.38,723.75 632,730 633.5,731.88 634.75,736.25 636,739.38 637.25,747.5 637.88,749 641,749 642.25,745 643.25,747.5 644.12,744 645,746.25 645.75,749" fill="none" stroke="#4f81bd" stroke-width="1" shape-rendering="crispEdges" />
</g>
<path d="M79.5 749V741M79.5 432V440M139.5 749V745M139.5 432V436M199.5 749V741M199.5 432V440M258.5 749V745M258.5 432V436M318.5 749V741M318.5 432V440M378.5 749V745M378.5 432V436M438.5 749V741M438.5 432V440M498.5 749V745M498.5 432V436M557.5 749V741M557.5 432V440M617.5 749V745M617.5 432V436M677.5 749V741M677.5 432V440M737.5 749V745M737.5 432V436M796.5 749V741M796.5 432V440M856.5 749V745M856.5 432V436M916.5 749V741M916.5 432V440M79 432.5H87M79 471.5H87M79 511.5H87M79 550.5H87M79 590.5H87M79 629.5H87M79 669.5H87M79 708.5H87M79 748.5H87M917 748.5H909M917 713.5H909M917 678.5H909M917 643.5H909M917 608.5H909M917 572.5H909M917 537.5H909M917 502.5H909M917 467.5H909M917 432.5H909" stroke="#000" stroke-width="1" fill="none" shape-rendering="crispEdges"/>
<rect x="79.5" y="432.5" width="837" height="316" fill="none" stroke="#000" stroke-width="1" shape-rendering="crispEdges"/>
<text x="67" y="437" text-anchor="end">-28</text>
<text x="67" y="476" text-anchor="end">-30</text>
<text x="67" y="516" text-anchor="end">-32</text>
<text x="67" y="555" text-anchor="end">-34</text>
<text x="67" y="595" text-anchor="end">-36</text>
<text x="67" y="634" text-anchor="end">-38</text>
<text x="67" y="674" text-anchor="end">-40</text>
<text x="67" y="713" text-anchor="end">-42</text>
<text x="67" y="753" text-anchor="end">-44</text>
<text x="932" y="753">0</text>
<text x="932" y="718">2</text>
<text x="932" y="683">4</text>
<text x="932" y="648">6</text>
<text x="932" y="613">8</text>
<text x="932" y="577">10</text>
<text x="932" y="542">12</text>
<text x="932" y="507">14</text>
<text x="932" y="472">16</text>
<text x="932" y="437">18</text>
<text transform="translate(17.5 601.2) rotate(-90)" textLength="22.7" lengthAdjust="spacing">dB</text>
<text transform="translate(982.8 614.7) rotate(-90)" textLength="48.5" lengthAdjust="spacing">Eb/No</text>
<text x="829.3" y="585" text-anchor="end" textLength="92.2" lengthAdjust="spacing">signal_level</text>
<text x="831" y="604" text-anchor="end">ebno</text>
<path d="M843 580.5H895" stroke="#000" shape-rendering="crispEdges"/>
<path d="M843 599.5H895" stroke="#4f81bd" shape-rendering="crispEdges"/>
</svg>
</body></html>
